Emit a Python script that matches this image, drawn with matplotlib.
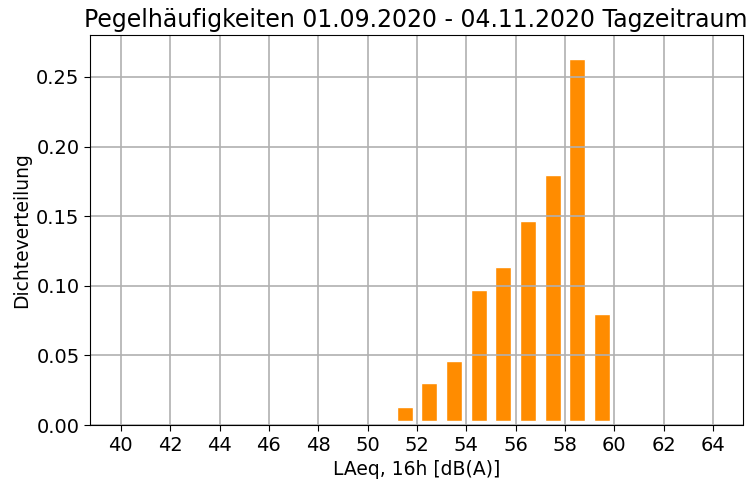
import matplotlib
matplotlib.use("Agg")
import matplotlib.pyplot as plt
import numpy as np

# Pegelklassen (Mitte) und Dichte
pegel_mitte = [51.5, 52.5, 53.5, 54.5, 55.5, 56.5, 57.5, 58.5, 59.5]
dichte = [0.013, 0.030, 0.046, 0.097, 0.1135, 0.1466, 0.1796, 0.263, 0.080]
x_ticks = list(range(40, 65, 2))

fig, ax = plt.subplots(figsize=(7.5, 4.87), dpi=100)
fig.subplots_adjust(left=0.12, right=0.99, top=0.928, bottom=0.127)

ax.bar(pegel_mitte, np.array(dichte) - 0.003, bottom=0.003, width=0.65,
       color='darkorange', edgecolor='white', linewidth=1)

ax.set_xlim(38.75, 65.2)
ax.set_ylim(0, 0.28)
ax.set_xticks(x_ticks)
ax.set_yticks([0, 0.05, 0.10, 0.15, 0.20, 0.25])
ax.grid(True, color='#b0b0b0', linewidth=1.2)
ax.tick_params(labelsize=14, length=4)

ax.set_title('Pegelhäufigkeiten 01.09.2020 - 04.11.2020 Tagzeitraum', fontsize=17)
ax.set_xlabel('LAeq, 16h [dB(A)]', fontsize=13.5)
ax.set_ylabel('Dichteverteilung', fontsize=13.5)

plt.savefig('out.png', dpi=100)
